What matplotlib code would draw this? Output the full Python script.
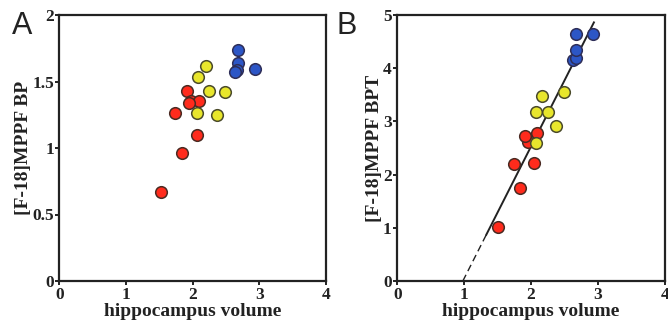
import numpy as np
import matplotlib.pyplot as plt

# panel A: [F-18]MPPF BP vs hippocampus volume
red_a_x = [1.92, 1.97, 2.10, 1.94, 1.74, 2.06, 1.84, 1.52]
red_a_y = [1.43, 1.35, 1.35, 1.34, 1.26, 1.095, 0.965, 0.667]
yel_a_x = [2.195, 2.08, 2.24, 2.49, 2.07, 2.36]
yel_a_y = [1.617, 1.536, 1.43, 1.42, 1.265, 1.25]
blu_a_x = [2.68, 2.68, 2.66, 2.64, 2.94]
blu_a_y = [1.74, 1.64, 1.59, 1.57, 1.595]

# panel B: [F-18]MPPF BPT vs hippocampus volume
red_b_x = [1.96, 1.91, 2.09, 1.75, 2.05, 1.83, 1.51]
red_b_y = [2.62, 2.72, 2.78, 2.19, 2.22, 1.75, 1.01]
yel_b_x = [2.17, 2.49, 2.07, 2.25, 2.37, 2.07]
yel_b_y = [3.48, 3.55, 3.18, 3.18, 2.92, 2.59]
blu_b_x = [2.63, 2.67, 2.67, 2.67, 2.93]
blu_b_y = [4.15, 4.19, 4.35, 4.64, 4.65]

# regression line in B
fit_slope = 2.48
fit_x0 = 0.98
fit_solid = (1.33, 2.94)
fit_dash = (0.98, 1.33)

ticks_x = [0, 1, 2, 3, 4]
ticks_a = [0, 0.5, 1, 1.5, 2]
ticks_a_lab = ['0', '0.5', '1', '1.5', '2']
ticks_b = [0, 1, 2, 3, 4, 5]

RED, RED_E = '#ff2b1c', '#4a2a22'
YEL, YEL_E = '#e8e62c', '#4a4a2a'
BLU, BLU_E = '#2c56c6', '#2e2e58'

serif = 'Liberation Serif'

fig = plt.figure(figsize=(6.68, 3.22), dpi=100)
axA = fig.add_axes([59.5/668, 1 - 281/322, 266.5/668, 266/322])
axB = fig.add_axes([397.3/668, 1 - 281/322, 267.5/668, 266/322])


def pts(ax, x, y, fc, ec):
    ax.scatter(x, y, s=70, c=fc, edgecolors=ec, linewidths=1.1, zorder=3, clip_on=False)


def style(ax, yt, ylab, ymax, ytl=None):
    ax.set_xlim(0, 4)
    ax.set_ylim(0, ymax)
    ax.set_xticks(ticks_x)
    ax.set_yticks(yt)
    if ytl is not None:
        ax.set_yticklabels(ytl)
    for s in ax.spines.values():
        s.set_linewidth(1.6)
        s.set_color('#222222')
    ax.tick_params(direction='out', length=3, width=1.4, color='#222222', pad=1,
                   labelsize=12.5)
    for t in ax.get_xticklabels() + ax.get_yticklabels():
        t.set_family(serif)
        t.set_fontweight('bold')
        t.set_color('#222222')
    ax.set_xlabel('hippocampus volume', family=serif, fontweight='bold',
                  fontsize=14, labelpad=0, color='#222222')
    ax.set_ylabel(ylab, family=serif, fontweight='bold', fontsize=14,
                  labelpad=0, color='#222222')


pts(axA, red_a_x, red_a_y, RED, RED_E)
pts(axA, yel_a_x, yel_a_y, YEL, YEL_E)
pts(axA, blu_a_x, blu_a_y, BLU, BLU_E)
style(axA, ticks_a, '[F-18]MPPF BP', 2, ticks_a_lab)

xs = np.array(fit_solid)
axB.plot(xs, fit_slope * (xs - fit_x0), color='#222222', lw=1.4, zorder=2)
xd = np.array(fit_dash)
axB.plot(xd, fit_slope * (xd - fit_x0), color='#222222', lw=1.0, ls=(0, (5, 3)), zorder=2)
pts(axB, red_b_x, red_b_y, RED, RED_E)
pts(axB, yel_b_x, yel_b_y, YEL, YEL_E)
pts(axB, blu_b_x, blu_b_y, BLU, BLU_E)
style(axB, ticks_b, '[F-18]MPPF BPT', 5)

fig.text(12/668, 1 - 34/322, 'A', family='Liberation Sans', fontsize=22, color='#222222')
fig.text(337/668, 1 - 34/322, 'B', family='Liberation Sans', fontsize=22, color='#222222')

fig.savefig('out.png', dpi=100)
